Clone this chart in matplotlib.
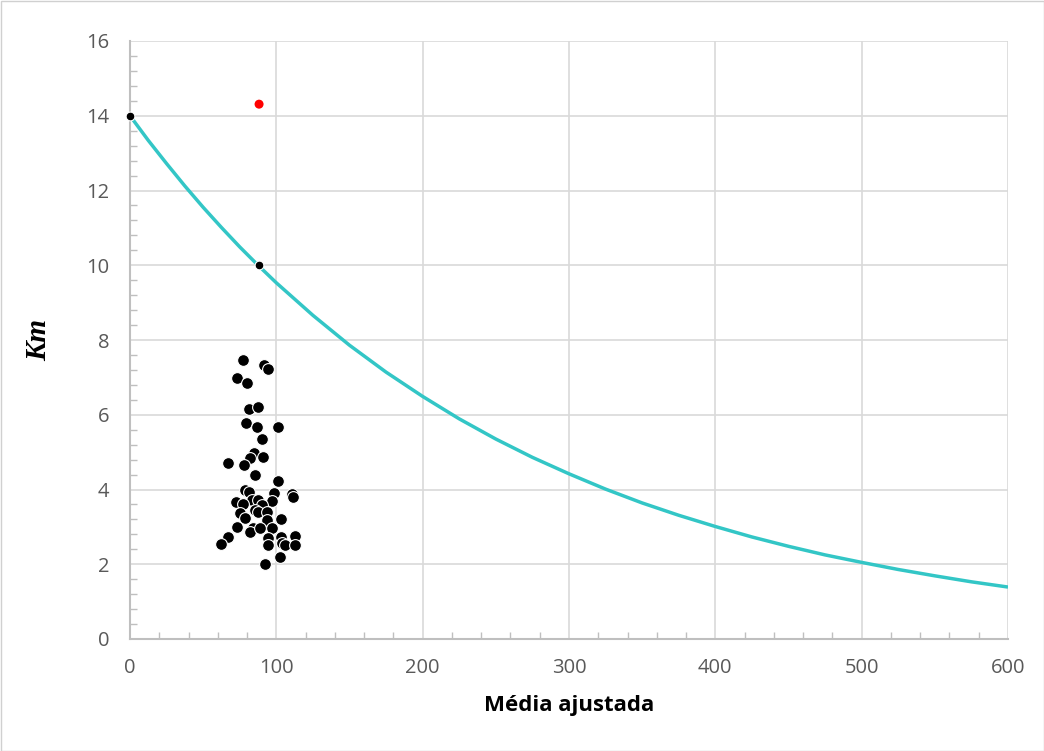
import matplotlib
matplotlib.use("Agg")
import matplotlib.pyplot as plt
from matplotlib.ticker import MultipleLocator
from matplotlib.patches import Rectangle

# Scatter cluster (Média ajustada, Km)
media = [77.0, 91.8, 94.1, 73.3, 79.7, 81.3, 87.3, 79.0, 86.6, 100.9,
         89.9, 84.9, 82.0, 91.1, 66.8, 78.1, 85.4, 100.9,
         78.6, 81.3, 98.6, 110.5, 111.4, 72.2, 83.2, 87.7, 96.8, 77.4, 89.9,
         75.2, 85.4, 87.7, 93.4, 78.6, 93.4, 103.2, 73.3, 84.3, 82.0, 88.8,
         96.8, 66.8, 62.2, 94.5, 94.5, 103.2, 103.6, 105.9, 112.8, 112.8,
         102.5, 92.3]
km = [7.46, 7.33, 7.22, 6.99, 6.84, 6.15, 6.22, 5.79, 5.68, 5.68,
      5.35, 4.98, 4.85, 4.86, 4.70, 4.66, 4.39, 4.23,
      3.99, 3.94, 3.90, 3.88, 3.81, 3.66, 3.72, 3.72, 3.69, 3.60, 3.59,
      3.36, 3.45, 3.41, 3.41, 3.23, 3.18, 3.20, 3.00, 2.98, 2.87, 2.98,
      2.96, 2.74, 2.55, 2.69, 2.51, 2.74, 2.56, 2.52, 2.76, 2.52,
      2.20, 2.00]

# Reference points on the curve
ref_x = [0, 88]
ref_y = [14.0, 10.0]

# Outlier (red)
out_x = [88.2]
out_y = [14.31]

# Curve
curve_x = [0, 12.5, 25, 37.5, 50, 62.5, 75, 87.5, 100, 125, 150, 175, 200, 225, 250, 275, 300,
           325, 350, 375, 400, 425, 450, 475, 500, 525, 550, 575, 600]
curve_y = [14.0, 13.34, 12.72, 12.12, 11.55, 11.01, 10.49, 10.0, 9.53, 8.66, 7.86, 7.14, 6.49, 5.89,
           5.35, 4.86, 4.42, 4.01, 3.64, 3.31, 3.01, 2.73, 2.48, 2.25,
           2.05, 1.86, 1.69, 1.53, 1.39]

xticks = [0, 100, 200, 300, 400, 500, 600]
yticks = [0, 2, 4, 6, 8, 10, 12, 14, 16]

plt.rcParams['font.family'] = ['Open Sans', 'DejaVu Sans']

fig = plt.figure(figsize=(10.44, 7.51), dpi=100)
ax = fig.add_axes([130/1044, 1-639/751, (1008-130)/1044, (639-41)/751])

fig.patches.append(Rectangle((0.5/1044, 0.5/751), 1-1/1044, 1-1/751,
                             transform=fig.transFigure, fill=False,
                             edgecolor='#d0d0d0', linewidth=1))

ax.plot(curve_x, curve_y, color='#33c6c6', linewidth=2.5, zorder=3,
        solid_capstyle='butt', solid_joinstyle='round')
ax.scatter(media, km, s=72, color='black', edgecolors='white',
           linewidths=0.8, zorder=4)
ax.scatter(ref_x, ref_y, s=40, color='black', edgecolors='white',
           linewidths=0.8, zorder=5, clip_on=False)
ax.scatter(out_x, out_y, s=42, color='#ff0000', edgecolors='none', zorder=5)

ax.set_xlim(0, 600)
ax.set_ylim(0, 16)
ax.set_xticks(xticks)
ax.set_yticks(yticks)
ax.xaxis.set_minor_locator(MultipleLocator(20))
ax.yaxis.set_minor_locator(MultipleLocator(0.4))

ax.grid(True, which='major', color='#d9d9d9', linewidth=1.2, zorder=0)
ax.set_axisbelow(True)
for s in ['top', 'right']:
    ax.spines[s].set_visible(False)
for s in ['left', 'bottom']:
    ax.spines[s].set_color('#bfbfbf')
    ax.spines[s].set_linewidth(1.5)

ax.tick_params(which='major', length=0, labelsize=14.5, labelcolor='#595959')
ax.tick_params(axis='x', which='major', pad=14)
ax.tick_params(axis='y', which='major', pad=15)
ax.tick_params(which='minor', direction='in', length=5, color='#bfbfbf', width=1)

ax.set_xlabel('Média ajustada', fontsize=16, fontweight='bold', color='black', labelpad=12)
ax.set_ylabel('Km', fontsize=21, fontstyle='italic', fontweight='bold',
              family='Liberation Serif', color='black', labelpad=24)

fig.savefig('out.png', dpi=100)
